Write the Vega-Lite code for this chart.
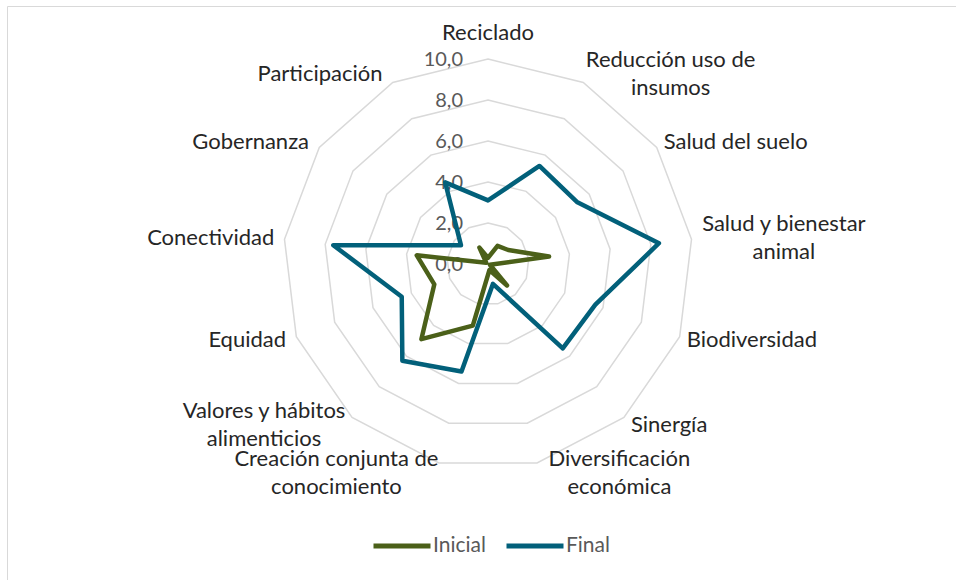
{
  "$schema": "https://vega.github.io/schema/vega-lite/v6.json",
  "width": 949,
  "height": 574,
  "autosize": {"type": "none"},
  "padding": {"left": 7, "top": 6, "right": 0, "bottom": 0},
  "background": "white",
  "config": {"view": {"stroke": "#d9d9d9", "strokeWidth": 1}, "font": "Lato"},
  "datasets": {
    "ejes": [
      {"i": 0, "eje": "Reciclado", "etiqueta": "Reciclado", "Inicial": 0.3, "Final": 3.1},
      {"i": 1, "eje": "Reducción uso de insumos", "etiqueta": "Reducción uso de\ninsumos", "Inicial": 1.0, "Final": 5.4},
      {"i": 2, "eje": "Salud del suelo", "etiqueta": "Salud del suelo", "Inicial": 1.2, "Final": 5.3},
      {"i": 3, "eje": "Salud y bienestar animal", "etiqueta": "Salud y bienestar\nanimal", "Inicial": 3.0, "Final": 8.4},
      {"i": 4, "eje": "Biodiversidad", "etiqueta": "Biodiversidad", "Inicial": 0.1, "Final": 5.6},
      {"i": 5, "eje": "Sinergía", "etiqueta": "Sinergía", "Inicial": 1.4, "Final": 5.5},
      {"i": 6, "eje": "Diversificación económica", "etiqueta": "Diversificación\neconómica", "Inicial": 0.3, "Final": 1.0},
      {"i": 7, "eje": "Creación conjunta de conocimiento", "etiqueta": "Creación conjunta de\nconocimiento", "Inicial": 3.1, "Final": 5.4},
      {"i": 8, "eje": "Valores y hábitos alimenticios", "etiqueta": "Valores y hábitos\nalimenticios", "Inicial": 4.9, "Final": 6.3},
      {"i": 9, "eje": "Equidad", "etiqueta": "Equidad", "Inicial": 2.8, "Final": 4.5},
      {"i": 10, "eje": "Conectividad", "etiqueta": "Conectividad", "Inicial": 3.5, "Final": 7.6},
      {"i": 11, "eje": "Gobernanza", "etiqueta": "Gobernanza", "Inicial": 0.1, "Final": 1.6},
      {"i": 12, "eje": "Participación", "etiqueta": "Participación", "Inicial": 0.9, "Final": 4.5}
    ],
    "escala": [{"v": 0}, {"v": 2}, {"v": 4}, {"v": 6}, {"v": 8}, {"v": 10}]
  },
  "layer": [
    {
      "data": {"name": "ejes"},
      "transform": [
        {"calculate": "[2,4,6,8,10]", "as": "niveles"},
        {"flatten": ["niveles"], "as": ["nivel"]},
        {"calculate": "datum.i*2*PI/13", "as": "th"},
        {"calculate": "datum.nivel*sin(datum.th)", "as": "px"},
        {"calculate": "datum.nivel*cos(datum.th)", "as": "py"}
      ],
      "mark": {"type": "line", "interpolate": "linear-closed", "stroke": "#d9d9d9", "strokeWidth": 1.5},
      "encoding": {
        "x": {"field": "px", "type": "quantitative", "scale": {"domain": [-23.463, 22.829], "nice": false, "zero": false}, "axis": null},
        "y": {"field": "py", "type": "quantitative", "scale": {"domain": [-15.415, 12.585], "nice": false, "zero": false}, "axis": null},
        "detail": {"field": "nivel", "type": "nominal"},
        "order": {"field": "i", "type": "quantitative"}
      }
    },
    {
      "data": {"name": "escala"},
      "transform": [{"calculate": "replace(format(datum.v, '.1f'), '.', ',')", "as": "t"}],
      "mark": {"type": "text", "align": "right", "baseline": "middle", "dx": -25, "dy": 1, "font": "Lato", "fontSize": 20, "color": "#595959"},
      "encoding": {
        "x": {"datum": 0, "type": "quantitative"},
        "y": {"field": "v", "type": "quantitative"},
        "text": {"field": "t", "type": "nominal"}
      }
    },
    {
      "data": {"name": "ejes"},
      "transform": [
        {"fold": ["Inicial", "Final"], "as": ["serie", "valor"]},
        {"calculate": "datum.i*2*PI/13", "as": "th"},
        {"calculate": "datum.valor*sin(datum.th)", "as": "px"},
        {"calculate": "datum.valor*cos(datum.th)", "as": "py"}
      ],
      "mark": {"type": "line", "interpolate": "linear-closed", "strokeWidth": 4.5, "strokeJoin": "round", "strokeCap": "round"},
      "encoding": {
        "x": {"field": "px", "type": "quantitative"},
        "y": {"field": "py", "type": "quantitative"},
        "color": {
          "field": "serie", "type": "nominal",
          "scale": {"domain": ["Inicial", "Final"], "range": ["#4b6019", "#02607a"]},
          "legend": {
            "title": null, "orient": "none", "legendX": 364, "legendY": 509,
            "direction": "horizontal", "symbolType": "stroke", "symbolSize": 3249,
            "symbolStrokeWidth": 5, "labelFont": "Lato", "labelFontSize": 21,
            "labelColor": "#595959", "labelOffset": 0, "columnPadding": 10
          }
        },
        "order": {"field": "i", "type": "quantitative"}
      }
    },
    {
      "data": {"name": "ejes"},
      "transform": [
        {"calculate": "datum.i*2*PI/13", "as": "th"},
        {"calculate": "sin(datum.th)", "as": "s"},
        {"calculate": "cos(datum.th)", "as": "c"},
        {"calculate": "split(datum.etiqueta, '\\n')", "as": "ln"},
        {"calculate": "length(datum.ln) > 1", "as": "multi"},
        {"calculate": "datum.multi ? max(length(datum.ln[0]), length(datum.ln[1])) : 0", "as": "w"},
        {"calculate": "abs(datum.s) < 0.1 ? 0 : (datum.s > 0 ? 10*datum.s + 0.34 + datum.w * 0.49 / 2 : 10*datum.s - (datum.multi ? 0.3 : 0.5) - datum.w * 0.47 / 2)", "as": "lx"},
        {"calculate": "(abs(datum.s) < 0.1 ? 11.27 : 10.49*datum.c) + (datum.multi ? 0.68 : 0)", "as": "ly"},
        {"calculate": "(abs(datum.s) < 0.1 || datum.multi) ? 'center' : (datum.s > 0 ? 'left' : 'right')", "as": "al"}
      ],
      "mark": {"type": "text", "align": {"expr": "datum.al"}, "baseline": "middle", "lineBreak": "\n", "lineHeight": 28, "font": "Lato", "fontSize": 22, "color": "#262626"},
      "encoding": {
        "x": {"field": "lx", "type": "quantitative"},
        "y": {"field": "ly", "type": "quantitative"},
        "text": {"field": "etiqueta", "type": "nominal"}
      }
    }
  ]
}
